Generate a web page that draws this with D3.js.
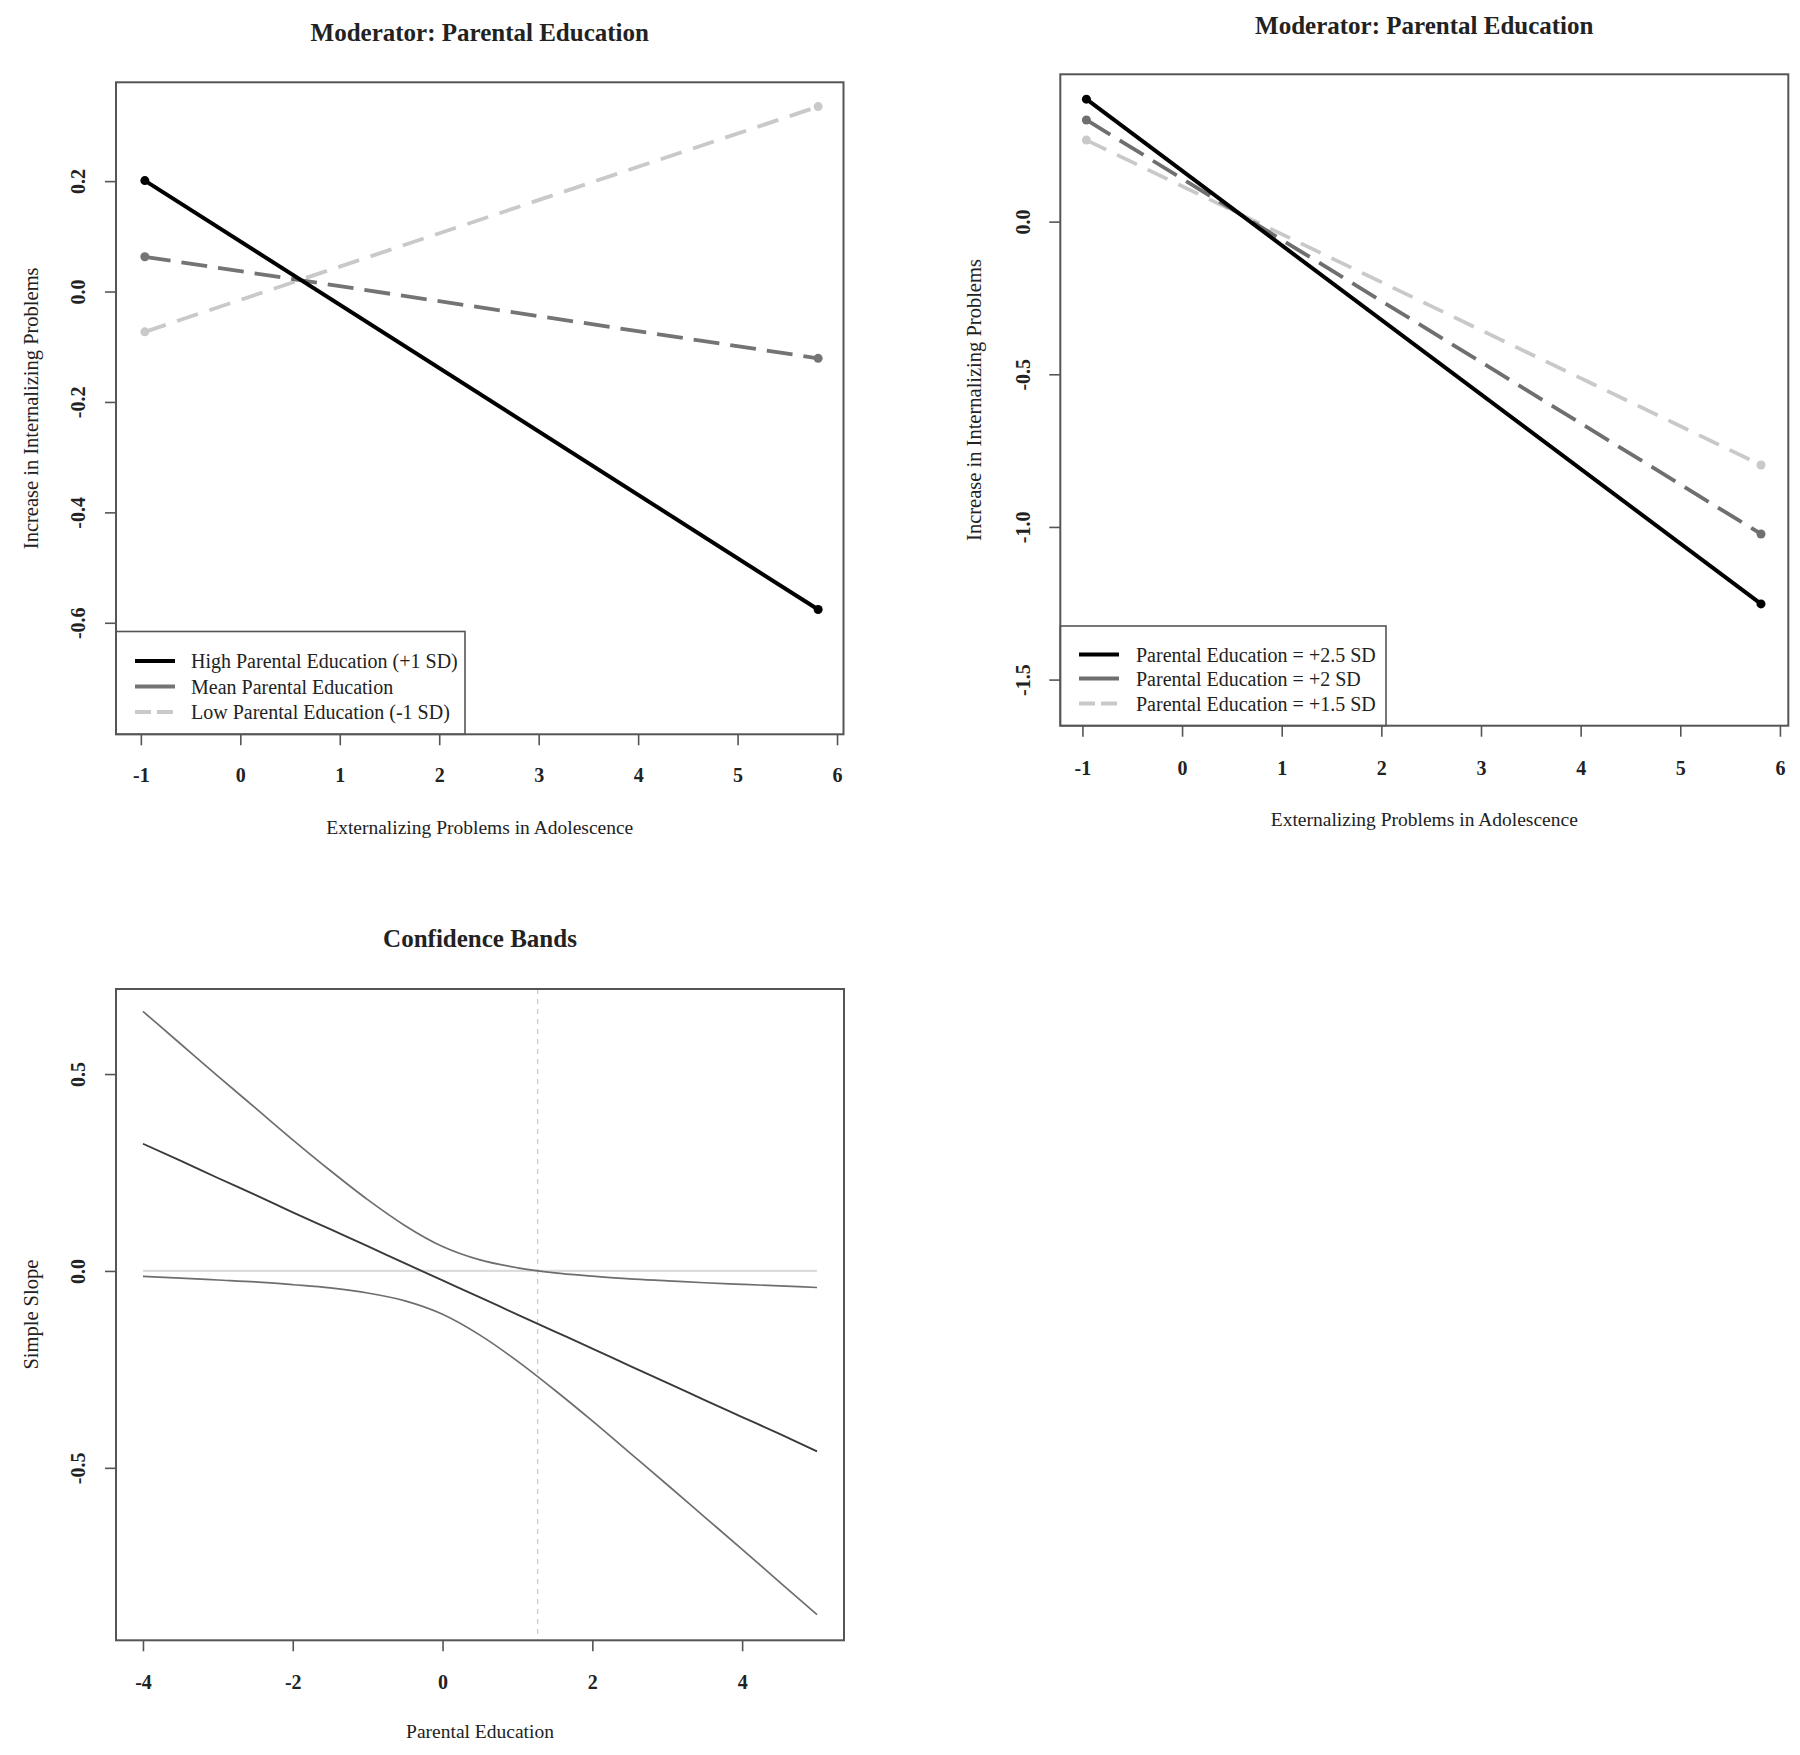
<!DOCTYPE html>
<html>
<head>
<meta charset="utf-8">
<script src="https://cdn.jsdelivr.net/npm/d3@7"></script>
<style>
  html, body { margin: 0; padding: 0; background: #fff; }
  svg { display: block; }
  text { font-family: "Liberation Serif", "Times New Roman", serif; fill: #222; }
</style>
</head>
<body>
<svg id="chart" width="1800" height="1755"></svg>
<script>
// ---------------- DATA ----------------
// Panel 1 & 2: predicted values at the two ends of Externalizing Problems
const xEnds = [-0.96, 5.81];
const p1Labels = ["High Parental Education (+1 SD)", "Mean Parental Education", "Low Parental Education (-1 SD)"];
const p1High = [0.201, -0.576];
const p1Mean = [0.063, -0.121];
const p1Low = [-0.073, 0.335];
const p1XTicks = [-1, 0, 1, 2, 3, 4, 5, 6];
const p1YTicks = [0.2, 0.0, -0.2, -0.4, -0.6];

const p2Labels = ["Parental Education = +2.5 SD", "Parental Education = +2 SD", "Parental Education = +1.5 SD"];
const p2High = [0.401, -1.252];
const p2Mid = [0.333, -1.023];
const p2Low = [0.267, -0.797];
const p2XTicks = [-1, 0, 1, 2, 3, 4, 5, 6];
const p2YTicks = [0.0, -0.5, -1.0, -1.5];

// Panel 3: simple slope and confidence bands across Parental Education
const p3X = [-4, -3.5, -3, -2.5, -2, -1.5, -1, -0.5, 0, 0.5, 1, 1.5, 2, 2.5, 3, 3.5, 4, 4.5, 5];
const p3Slope = [0.323, 0.280, 0.236, 0.193, 0.149, 0.106, 0.063, 0.019, -0.024, -0.067, -0.111, -0.154, -0.197, -0.241, -0.284, -0.328, -0.371, -0.414, -0.458];
const p3Upper = [0.659, 0.577, 0.495, 0.414, 0.333, 0.255, 0.181, 0.115, 0.062, 0.028, 0.008, -0.005, -0.013, -0.020, -0.025, -0.030, -0.034, -0.038, -0.042];
const p3Lower = [-0.014, -0.018, -0.023, -0.028, -0.035, -0.043, -0.056, -0.076, -0.110, -0.163, -0.229, -0.303, -0.381, -0.462, -0.543, -0.625, -0.707, -0.790, -0.873];
const p3JN = 1.27;
const p3XTicks = [-4, -2, 0, 2, 4];
const p3YTicks = [0.5, 0.0, -0.5];

// ---------------- DRAWING ----------------
const svg = d3.select("#chart");
const fmt1 = d => d3.format(".1f")(d).replace("\u2212", "-");
const fmt0 = d => d3.format("d")(d).replace("\u2212", "-");

function panel(cfg) {
  const g = svg.append("g");
  const x = d3.scaleLinear().domain(cfg.xDomain).range([cfg.left, cfg.right]);
  const y = d3.scaleLinear().domain(cfg.yDomain).range([cfg.bottom, cfg.top]);

  // axes
  const xa = g.append("g").attr("transform", `translate(0,${cfg.bottom})`)
    .call(d3.axisBottom(x).tickValues(cfg.xTicks).tickFormat(cfg.xFmt).tickSize(11));
  xa.select(".domain").remove();
  xa.selectAll(".tick line").attr("stroke", "#555").attr("stroke-width", 1.6);
  xa.selectAll(".tick text").attr("y", cfg.xTickY).attr("dy", "0.35em")
    .style("font-size", "20px").style("font-weight", "bold").attr("fill", "#222");

  const ya = g.append("g").attr("transform", `translate(${cfg.left},0)`)
    .call(d3.axisLeft(y).tickValues(cfg.yTicks).tickFormat(fmt1).tickSize(11));
  ya.select(".domain").remove();
  ya.selectAll(".tick line").attr("stroke", "#555").attr("stroke-width", 1.6);
  ya.selectAll(".tick text").attr("x", null).attr("dy", "0.35em").attr("text-anchor", "middle")
    .attr("transform", `translate(${-cfg.yTickOff},0) rotate(-90)`)
    .style("font-size", "20px").style("font-weight", "bold").attr("fill", "#222");

  // title & labels
  g.append("text").attr("x", (cfg.left + cfg.right) / 2).attr("y", cfg.titleY).attr("dy", "0.35em")
    .attr("text-anchor", "middle").style("font-size", "25px").style("font-weight", "bold").text(cfg.title);
  g.append("text").attr("x", (cfg.left + cfg.right) / 2).attr("y", cfg.xLabelY).attr("dy", "0.35em")
    .attr("text-anchor", "middle").style("font-size", "19.5px").text(cfg.xLabel);
  g.append("text").attr("transform", `translate(${cfg.yLabelX},${(cfg.top + cfg.bottom) / 2}) rotate(-90)`)
    .attr("dy", "0.35em").attr("text-anchor", "middle").style("font-size", "20.5px").text(cfg.yLabel);

  return { g, x, y };
}

function box(g, cfg) {
  g.append("rect").attr("x", cfg.left).attr("y", cfg.top)
    .attr("width", cfg.right - cfg.left).attr("height", cfg.bottom - cfg.top)
    .attr("fill", "none").attr("stroke", "#555").attr("stroke-width", 2);
}

function interactionPanel(cfg, series, labels, legend) {
  const { g, x, y } = panel(cfg);
  const line = d3.line().x(d => x(d[0])).y(d => y(d[1]));
  // draw lightest first so black sits on top
  series.slice().reverse().forEach(s => {
    const pts = xEnds.map((xv, i) => [xv, s.vals[i]]);
    g.append("path").datum(pts).attr("d", line).attr("fill", "none")
      .attr("stroke", s.color).attr("stroke-width", s.width)
      .attr("stroke-dasharray", s.dash).attr("stroke-linecap", "butt");
    g.selectAll(null).data(pts).enter().append("circle")
      .attr("cx", d => x(d[0])).attr("cy", d => y(d[1])).attr("r", 4.5).attr("fill", s.color);
  });
  // legend
  const lg = g.append("g");
  lg.append("rect").attr("x", cfg.left).attr("y", legend.top)
    .attr("width", legend.right - cfg.left).attr("height", cfg.bottom - legend.top)
    .attr("fill", "#fff").attr("stroke", "#555").attr("stroke-width", 1.6);
  series.forEach((s, i) => {
    const yy = legend.rows[i];
    lg.append("line").attr("x1", legend.lx1).attr("x2", legend.lx2).attr("y1", yy).attr("y2", yy)
      .attr("stroke", s.color).attr("stroke-width", s.width).attr("stroke-dasharray", s.legendDash);
    lg.append("text").attr("x", legend.tx).attr("y", yy).attr("dy", "0.35em")
      .style("font-size", "20px").text(labels[i]);
  });
  box(g, cfg);
}

// ---- Panel 1 ----
const cfg1 = {
  left: 116, right: 843.5, top: 82.3, bottom: 734.3,
  xDomain: [-1.25, 6.065], yDomain: [-0.802, 0.379],
  xTicks: p1XTicks, yTicks: p1YTicks, xFmt: fmt0,
  xTickY: 41, yTickOff: 38,
  title: "Moderator: Parental Education", titleY: 32,
  xLabel: "Externalizing Problems in Adolescence", xLabelY: 827,
  yLabel: "Increase in Internalizing Problems", yLabelX: 31
};
interactionPanel(cfg1, [
  { vals: p1High, color: "#000", width: 4, dash: null, legendDash: null },
  { vals: p1Mean, color: "#747474", width: 3.8, dash: "26,11", legendDash: "40,0" },
  { vals: p1Low, color: "#c9c9c9", width: 3.8, dash: "22,12", legendDash: "16,6" }
], p1Labels, { top: 631.5, right: 465, rows: [661, 686.5, 712], lx1: 135, lx2: 175, tx: 191 });

// ---- Panel 2 ----
const cfg2 = {
  left: 1060.3, right: 1788.3, top: 74.3, bottom: 725.7,
  xDomain: [-1.222, 6.084], yDomain: [-1.651, 0.4825],
  xTicks: p2XTicks, yTicks: p2YTicks, xFmt: fmt0,
  xTickY: 42, yTickOff: 37,
  title: "Moderator: Parental Education", titleY: 25,
  xLabel: "Externalizing Problems in Adolescence", xLabelY: 819,
  yLabel: "Increase in Internalizing Problems", yLabelX: 974
};
interactionPanel(cfg2, [
  { vals: p2High, color: "#000", width: 4, dash: null, legendDash: null },
  { vals: p2Mid, color: "#6f6f6f", width: 3.8, dash: "28,11", legendDash: "40,0" },
  { vals: p2Low, color: "#c9c9c9", width: 3.8, dash: "22,12", legendDash: "16,6" }
], p2Labels, { top: 626, right: 1386, rows: [654.5, 678.5, 703.5], lx1: 1079, lx2: 1119, tx: 1136 });

// ---- Panel 3 ----
const cfg3 = {
  left: 116, right: 844, top: 989, bottom: 1640.3,
  xDomain: [-4.36, 5.36], yDomain: [-0.938, 0.716],
  xTicks: p3XTicks, yTicks: p3YTicks, xFmt: fmt0,
  xTickY: 42, yTickOff: 38,
  title: "Confidence Bands", titleY: 938,
  xLabel: "Parental Education", xLabelY: 1731,
  yLabel: "Simple Slope", yLabelX: 31
};
(function () {
  const { g, x, y } = panel(cfg3);
  // zero reference line
  g.append("line").attr("x1", x(p3X[0])).attr("x2", x(p3X[p3X.length - 1]))
    .attr("y1", y(0)).attr("y2", y(0)).attr("stroke", "#dcdcdc").attr("stroke-width", 2.2);
  // Johnson-Neyman vertical line
  g.append("line").attr("x1", x(p3JN)).attr("x2", x(p3JN))
    .attr("y1", cfg3.top).attr("y2", cfg3.bottom)
    .attr("stroke", "#c8c8c8").attr("stroke-width", 1.2).attr("stroke-dasharray", "5,5");
  const line = d3.line().x((d, i) => x(p3X[i])).y(d => y(d)).curve(d3.curveMonotoneX);
  [[p3Upper, "#6e6e6e", 1.7], [p3Lower, "#6e6e6e", 1.7], [p3Slope, "#3a3a3a", 1.9]].forEach(([vals, c, w]) => {
    g.append("path").datum(vals).attr("d", line).attr("fill", "none")
      .attr("stroke", c).attr("stroke-width", w);
  });
  box(g, cfg3);
})();
</script>
</body>
</html>
